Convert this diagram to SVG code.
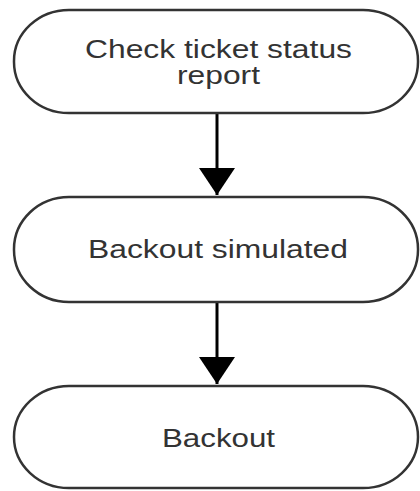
<svg xmlns="http://www.w3.org/2000/svg" width="420" height="491" viewBox="0 0 420 491">
<style>
.node{fill:#ffffff;stroke:#333333;stroke-width:2.5}
.lbl{font-family:"Liberation Sans",Arial,sans-serif;font-size:25px;fill:#333333}
.edge{stroke:#000000;stroke-width:3;fill:none}
</style>
<defs>
<marker id="arr" markerUnits="userSpaceOnUse" markerWidth="40" markerHeight="40" refX="36" refY="18" orient="auto">
<path d="M9,0 L36,18 L9,36 Z" fill="#000000"/>
</marker>
</defs>
<rect width="420" height="491" fill="#ffffff"/>
<g id="connectors">
<line class="edge" x1="217" y1="113" x2="217" y2="195" marker-end="url(#arr)"/>
<line class="edge" x1="217" y1="302" x2="217" y2="384" marker-end="url(#arr)"/>
</g>
<g id="node1">
<rect class="node" x="14" y="10" width="404" height="103" rx="55" ry="51"/>
<text class="lbl" x="85" y="58" textLength="267" lengthAdjust="spacingAndGlyphs">Check ticket status</text>
<text class="lbl" x="177" y="84" textLength="83" lengthAdjust="spacingAndGlyphs">report</text>
</g>
<g id="node2">
<rect class="node" x="14" y="197" width="404" height="105" rx="55" ry="52"/>
<text class="lbl" x="88" y="258" textLength="260" lengthAdjust="spacingAndGlyphs">Backout simulated</text>
</g>
<g id="node3">
<rect class="node" x="14" y="386" width="404" height="102" rx="55" ry="51"/>
<text class="lbl" x="162" y="447" textLength="113" lengthAdjust="spacingAndGlyphs">Backout</text>
</g>
</svg>
